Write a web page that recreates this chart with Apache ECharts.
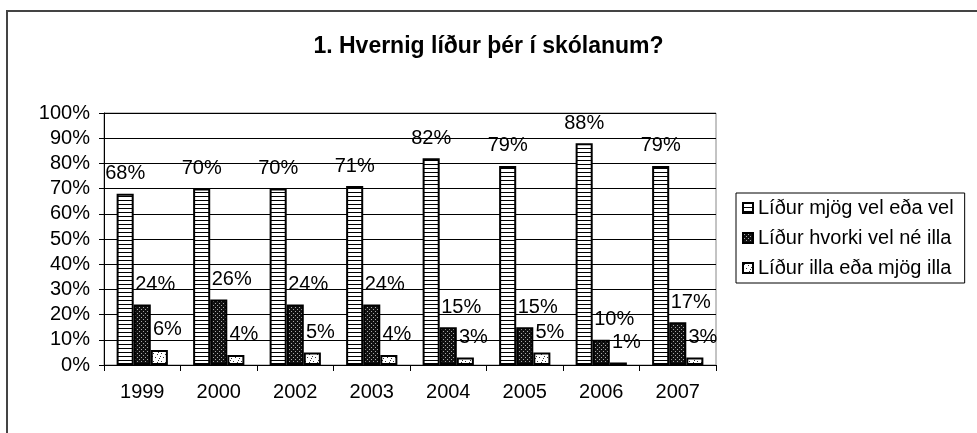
<!DOCTYPE html>
<html>
<head>
<meta charset="utf-8">
<script src="https://cdn.jsdelivr.net/npm/echarts@6/dist/echarts.min.js"></script>
<style>
html,body{margin:0;padding:0;background:#fff;}
#c{width:977px;height:433px;}
</style>
</head>
<body>
<div id="c"></div>
<script>
var titleText = ' 1. Hvernig líður þér í skólanum?';
var categories = ['1999', '2000', '2002', '2003', '2004', '2005', '2006', '2007'];
var seriesNames = ['Líður mjög vel eða vel', 'Líður hvorki vel né illa', 'Líður illa eða mjög illa'];
var vel = [68, 70, 70, 71, 82, 79, 88, 79];
var hvorki = [24, 26, 24, 24, 15, 15, 10, 17];
var illa = [6, 4, 5, 4, 3, 5, 1, 3];
var yTicks = [0, 10, 20, 30, 40, 50, 60, 70, 80, 90, 100];

function tile(w, h, bg, fg, pts) {
  var c = document.createElement('canvas');
  c.width = w; c.height = h;
  var ctx = c.getContext('2d');
  ctx.fillStyle = bg; ctx.fillRect(0, 0, w, h);
  ctx.fillStyle = fg;
  pts.forEach(function (p) { ctx.fillRect(p[0], p[1], p[2] || 1, p[3] || 1); });
  return { image: c, repeat: 'repeat' };
}
var patStripes = tile(4, 4, '#ffffff', '#000000', [[0, 0, 4, 1]]);
var patDark = tile(4, 4, '#111111', '#aaaaaa', [[1, 1], [3, 3]]);
var patDots = tile(8, 8, '#ffffff', '#333333', [[1, 1], [5, 2], [3, 5], [7, 6], [0, 4], [6, 0]]);

var font = 'Liberation Sans, Arial, sans-serif';
function mkSeries(name, data, pat, offX) {
  return {
    name: name, type: 'bar', data: data,
    barGap: '0%', barCategoryGap: '33%',
    itemStyle: { color: pat, borderColor: '#000', borderWidth: 2 },
    label: {
      show: true, position: 'top', distance: 10, offset: [offX, 0],
      formatter: '{c}%', color: '#000', fontSize: 20, fontFamily: font
    }
  };
}

var chart = echarts.init(document.getElementById('c'), null, { renderer: 'canvas' });
chart.setOption({
  animation: false,
  backgroundColor: '#fff',
  title: {
    text: titleText.trim(), left: 'center', top: 35, padding: 0,
    textStyle: { fontSize: 23, fontWeight: 'bold', color: '#000', fontFamily: font }
  },
  graphic: [{
    type: 'rect', shape: { x: 7, y: 11, width: 1100, height: 600 },
    style: { fill: 'none', stroke: '#444', lineWidth: 2 }, silent: true
  }],
  legend: {
    orient: 'vertical', left: 736, top: 193,
    padding: [5, 11, 5, 6], itemGap: 10, itemWidth: 10, itemHeight: 10,
    icon: 'rect', borderColor: '#000', borderWidth: 1, backgroundColor: '#fff',
    textStyle: { fontSize: 20, color: '#000', fontFamily: font },
    data: seriesNames
  },
  grid: {
    left: 104, right: 261, top: 113, bottom: 68,
    show: true, borderColor: '#888', borderWidth: 1, backgroundColor: 'transparent'
  },
  xAxis: {
    type: 'category', data: categories, boundaryGap: true,
    axisLine: { lineStyle: { color: '#000', width: 1 } },
    axisTick: { show: true, length: 6, lineStyle: { color: '#000' } },
    axisLabel: { fontSize: 20, color: '#000', margin: 17, fontFamily: font }
  },
  yAxis: {
    type: 'value', min: yTicks[0], max: yTicks[yTicks.length - 1], interval: 10,
    axisLine: { show: true, lineStyle: { color: '#000', width: 1 } },
    axisTick: { show: true, length: 5, lineStyle: { color: '#000' } },
    splitLine: { show: true, lineStyle: { color: '#000', width: 1 } },
    axisLabel: { fontSize: 20, color: '#000', margin: 14, formatter: '{value}%', fontFamily: font }
  },
  series: [
    mkSeries(seriesNames[0], vel, patStripes, 0),
    mkSeries(seriesNames[1], hvorki, patDark, 13),
    mkSeries(seriesNames[2], illa, patDots, 8)
  ]
});
</script>
</body>
</html>
